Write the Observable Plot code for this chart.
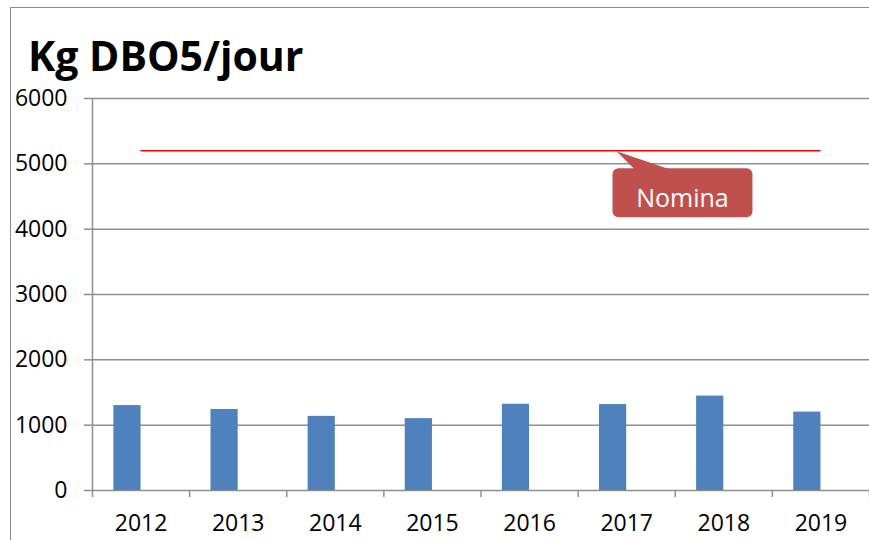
<!DOCTYPE html>
<html>
<head>
<meta charset="utf-8">
<script src="https://cdn.jsdelivr.net/npm/d3@7"></script>
<script src="https://cdn.jsdelivr.net/npm/@observablehq/plot@0.6"></script>
<style>
  html, body { margin: 0; padding: 0; background: #fff; overflow: hidden; }
  #wrap { position: relative; width: 869px; height: 540px; overflow: hidden; }
  #border { position: absolute; left: 10px; top: 7px; width: 900px; height: 600px; border: 1.3px solid #8c8c8c; box-sizing: border-box; }
  #title { position: absolute; left: 28px; top: 35px; font-family: "Open Sans", sans-serif; font-weight: 700; font-size: 41px; line-height: 1; color: #000; white-space: nowrap; }
  #chart { position: absolute; left: 0; top: 0; }
</style>
</head>
<body>
<div id="wrap">
  <div id="border"></div>
  <div id="chart"></div>
  <div id="title">Kg DBO5/jour</div>
</div>
<script>
// ---- data ----
const years = [2012, 2013, 2014, 2015, 2016, 2017, 2018, 2019];
const dbo5 = [1300, 1240, 1135, 1100, 1320, 1315, 1445, 1200];
const nominal = 5200;
const nominalLabel = "Nomina";
const calloutYear = 2016.9;
const yTicks = [0, 1000, 2000, 3000, 4000, 5000, 6000];
const bandEdges = [2011.5, 2012.5, 2013.5, 2014.5, 2015.5, 2016.5, 2017.5, 2018.5, 2019.5];

const data = years.map((y, i) => ({year: y, value: dbo5[i]}));
const barW = 0.28; // bar width as a fraction of one year band (left of centre)
const gridColor = "#8f8f8f";

const chart = Plot.plot({
  width: 869,
  height: 540,
  marginLeft: 92,
  marginRight: 0,
  marginTop: 98,
  marginBottom: 50,
  x: {type: "linear", domain: [2011.5, 2019.5], label: null},
  y: {domain: [0, 6000], label: null},
  style: {fontFamily: "'Open Sans', sans-serif", fontSize: "23px", color: "#000", background: "transparent", overflow: "visible"},
  marks: [
    Plot.gridY(yTicks, {stroke: gridColor, strokeOpacity: 1, strokeWidth: 1.5}),
    Plot.ruleX([2011.5], {stroke: gridColor, strokeWidth: 1.5}),
    Plot.axisY(yTicks, {label: null, tickSize: 8, tickPadding: 17, stroke: gridColor, strokeWidth: 1.5, fill: "#000", tickFormat: d => String(d), fontSize: 23}),
    Plot.axisX(bandEdges, {label: null, tickSize: 7, tickFormat: () => "", stroke: gridColor, strokeWidth: 1.5}),
    Plot.axisX(years, {label: null, tickSize: 0, tickPadding: 24, tickFormat: d => String(d), fill: "#000", fontSize: 23}),
    Plot.rectY(data, {x1: d => d.year - barW, x2: d => d.year, y1: 0, y2: "value", fill: "#4F81BD"}),
    Plot.ruleY([nominal], {x1: years[0], x2: years[years.length - 1], stroke: "#FF0000", strokeWidth: 1.5})
  ]
});
document.getElementById("chart").appendChild(chart);

// ---- callout anchored on the nominal line via the plot's own scales ----
function applyScale(s, v) {
  if (s.apply) return s.apply(v);
  const [d0, d1] = s.domain, [r0, r1] = s.range;
  return r0 + (v - d0) / (d1 - d0) * (r1 - r0);
}
const px = applyScale(chart.scale("x"), calloutYear);
const py = applyScale(chart.scale("y"), nominal);
const svg = d3.select(chart);
const g = svg.append("g");
g.append("rect")
  .attr("x", px - 4).attr("y", py + 18)
  .attr("width", 140).attr("height", 49)
  .attr("rx", 6).attr("fill", "#C0504D");
g.append("polygon")
  .attr("points", `${px},${py + 1} ${px + 18},${py + 19} ${px + 53},${py + 19}`)
  .attr("fill", "#C0504D");
g.append("text")
  .attr("x", px + 66).attr("y", py + 57)
  .attr("text-anchor", "middle")
  .attr("fill", "#fff")
  .style("font-family", "'Open Sans', sans-serif")
  .style("font-size", "25px")
  .text(nominalLabel);
</script>
</body>
</html>
